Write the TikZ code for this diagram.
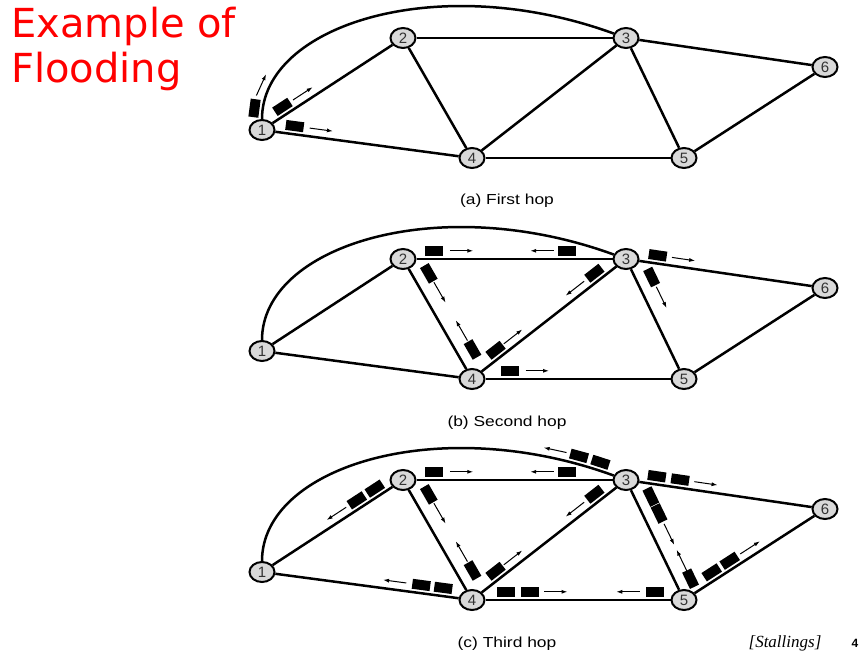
\documentclass[tikz,border=0pt]{standalone}
\usepackage{fontspec}
\usepackage{graphicx}
\setmainfont{Liberation Sans}
\newfontfamily\titrefont{DejaVu Sans}
\newfontfamily\sourcefont{Liberation Serif}
\usetikzlibrary{shapes.geometric,arrows.meta}

\begin{document}
\begin{tikzpicture}[x=1pt,y=1pt]
\tikzset{routeur/.style={draw, ellipse, line width=2pt, fill=gray!30, minimum width=25pt, minimum height=20pt, inner sep=0pt, font=\fontsize{15}{15}\selectfont, text=black!80},
  lien/.style={line width=2.5pt},
  pointe/.style={draw, line width=1pt, -{Latex[length=6pt,width=4pt]}},
  paquet/.style={fill=black, minimum width=18pt, minimum height=10pt, inner sep=0pt, sloped, above=3pt},
  fleche/.style={minimum width=23pt, minimum height=10pt, inner sep=0pt, sloped, above=3pt,
    append after command={(\tikzlastnode.west) edge[pointe] (\tikzlastnode.east)}},
  retour/.style={minimum width=23pt, minimum height=10pt, inner sep=0pt, sloped, above=3pt,
    append after command={(\tikzlastnode.east) edge[pointe] (\tikzlastnode.west)}},
  legende/.style={font=\fontsize{14.5}{16}\selectfont, anchor=base}}
\useasboundingbox (0,0) rectangle (861,-660);
\node[anchor=base west, inner sep=0pt, text=red, font=\titrefont\fontsize{40}{46}\selectfont] (titre1) at (11,-38) {Example of};
\node[anchor=base west, inner sep=0pt, text=red, font=\titrefont\fontsize{40}{46}\selectfont] (titre2) at (11,-83) {Flooding};
% (a) first hop
\node[routeur] (a1) at (262,-130) {1};
\node[routeur] (a2) at (403,-38) {2};
\node[routeur] (a3) at (626,-38) {3};
\node[routeur] (a4) at (472,-158) {4};
\node[routeur] (a5) at (684,-158) {5};
\node[routeur] (a6) at (825,-67) {6};
\draw[lien] (a1) -- (a2);
\draw[lien] (a1) .. controls +(90:105) and +(160:200) .. (a3);
\draw[lien] (a1) -- (a4);
\draw[lien] (a2) -- (a3);
\draw[lien] (a2) -- (a4);
\draw[lien] (a4) -- (a3);
\draw[lien] (a3) -- (a5);
\draw[lien] (a3) -- (a6);
\draw[lien] (a4) -- (a5);
\draw[lien] (a5) -- (a6);
\path (a1) .. controls +(90:105) and +(160:200) .. (a3) node[paquet, pos=0.035] (pa1) {} node[fleche, pos=0.115] (fa1) {};
\path (a1) -- (a2) node[paquet, pos=0.12] (pa2) {} node[fleche, pos=0.29] (fa2) {};
\path (a1) -- (a4) node[paquet, pos=0.10] (pa3) {} node[fleche, pos=0.245] (fa3) {};
\node[legende] (la) at (507,-205) {\scalebox{1.2}[1]{(a) First hop}};
% (b) second hop
\node[routeur] (b1) at (262,-351) {1};
\node[routeur] (b2) at (403,-259) {2};
\node[routeur] (b3) at (626,-259) {3};
\node[routeur] (b4) at (472,-379) {4};
\node[routeur] (b5) at (684,-379) {5};
\node[routeur] (b6) at (825,-288) {6};
\draw[lien] (b1) -- (b2);
\draw[lien] (b1) .. controls +(90:105) and +(160:200) .. (b3);
\draw[lien] (b1) -- (b4);
\draw[lien] (b2) -- (b3);
\draw[lien] (b2) -- (b4);
\draw[lien] (b4) -- (b3);
\draw[lien] (b3) -- (b5);
\draw[lien] (b3) -- (b6);
\draw[lien] (b4) -- (b5);
\draw[lien] (b5) -- (b6);
\path (b2) -- (b3) node[paquet, pos=0.09] (pb1) {} node[fleche, pos=0.23] (fb1) {}
  node[paquet, pos=0.77] (pb2) {} node[retour, pos=0.64] (fb2) {};
\path (b2) -- (b4) node[paquet, above=7pt, pos=0.12] (pb3) {} node[fleche, above=7pt, pos=0.31] (fb3) {}
  node[paquet, above=7pt, pos=0.88] (pb4) {} node[retour, above=7pt, pos=0.69] (fb4) {};
\path (b4) -- (b3) node[paquet, pos=0.14] (pb5) {} node[fleche, pos=0.27] (fb5) {}
  node[paquet, pos=0.875] (pb6) {} node[retour, pos=0.73] (fb6) {};
\path (b3) -- (b6) node[paquet, pos=0.10] (pb7) {} node[fleche, pos=0.25] (fb7) {};
\path (b3) -- (b5) node[paquet, above=7pt, pos=0.145] (pb8) {} node[fleche, above=7pt, pos=0.35] (fb8) {};
\path (b4) -- (b5) node[paquet, pos=0.135] (pb9) {} node[fleche, pos=0.28] (fb9) {};
\node[legende] (lb) at (507,-426) {\scalebox{1.2}[1]{(b) Second hop}};
% (c) third hop
\node[routeur] (c1) at (262,-572) {1};
\node[routeur] (c2) at (403,-480) {2};
\node[routeur] (c3) at (626,-480) {3};
\node[routeur] (c4) at (472,-600) {4};
\node[routeur] (c5) at (684,-600) {5};
\node[routeur] (c6) at (825,-509) {6};
\draw[lien] (c1) -- (c2);
\draw[lien] (c1) .. controls +(90:105) and +(160:200) .. (c3);
\draw[lien] (c1) -- (c4);
\draw[lien] (c2) -- (c3);
\draw[lien] (c2) -- (c4);
\draw[lien] (c4) -- (c3);
\draw[lien] (c3) -- (c5);
\draw[lien] (c3) -- (c6);
\draw[lien] (c4) -- (c5);
\draw[lien] (c5) -- (c6);
\path (c2) -- (c3) node[paquet, pos=0.09] (pc1) {} node[fleche, pos=0.23] (fc1) {}
  node[paquet, pos=0.77] (pc2) {} node[retour, pos=0.64] (fc2) {};
\path (c2) -- (c4) node[paquet, above=7pt, pos=0.12] (pc3) {} node[fleche, above=7pt, pos=0.31] (fc3) {}
  node[paquet, above=7pt, pos=0.88] (pc4) {} node[retour, above=7pt, pos=0.69] (fc4) {};
\path (c4) -- (c3) node[paquet, pos=0.14] (pc5) {} node[fleche, pos=0.27] (fc5) {}
  node[paquet, pos=0.875] (pc6) {} node[retour, pos=0.73] (fc6) {};
\path (c1) -- (c2) node[retour, pos=0.57] (fc7) {} node[paquet, pos=0.74] (pc7) {} node[paquet, pos=0.89] (pc8) {};
\path (c1) -- (c4) node[retour, pos=0.645] (fc8) {} node[paquet, pos=0.79] (pc9) {} node[paquet, pos=0.91] (pc10) {};
\path (c4) -- (c5) node[paquet, pos=0.11] (pc11) {} node[paquet, pos=0.24] (pc12) {} node[fleche, pos=0.38] (fc9) {}
  node[retour, pos=0.77] (fc10) {} node[paquet, pos=0.915] (pc13) {};
\path (c1) .. controls +(90:105) and +(160:200) .. (c3) node[retour, pos=0.885] (fc11) {}
  node[paquet, pos=0.93] (pc14) {} node[paquet, pos=0.97] (pc15) {};
\path (c3) -- (c6) node[paquet, pos=0.095] (pc16) {} node[paquet, pos=0.23] (pc17) {} node[fleche, pos=0.38] (fc12) {};
\path (c3) -- (c5) node[paquet, above=7pt, pos=0.13] (pc18) {} node[paquet, above=7pt, pos=0.30] (pc19) {} node[fleche, above=7pt, pos=0.51] (fc13) {}
  node[retour, above=7pt, pos=0.77] (fc14) {} node[paquet, above=7pt, pos=0.955] (pc20) {};
\path (c5) -- (c6) node[paquet, pos=0.18] (pc21) {} node[paquet, pos=0.33] (pc22) {} node[fleche, pos=0.50] (fc15) {};
\node[legende] (lc) at (507,-647) {\scalebox{1.2}[1]{(c) Third hop}};
\node[anchor=base, font=\sourcefont\itshape\fontsize{17}{17}\selectfont] (source) at (785,-647) {[Stallings]};
\node[anchor=base, font=\bfseries\fontsize{12}{12}\selectfont] (page) at (855,-647) {4};
\end{tikzpicture}
\end{document}
